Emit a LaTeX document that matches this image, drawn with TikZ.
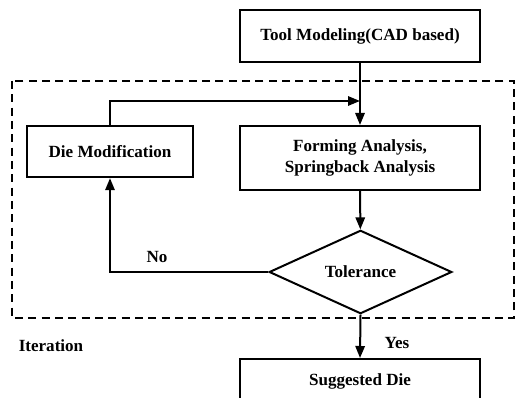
\documentclass[tikz,border=0pt]{standalone}
\usepackage{fontspec}
\setmainfont{Liberation Serif}
\usetikzlibrary{arrows.meta,shapes.geometric}

\tikzset{
    stepbox/.style={draw, line width=1.5pt, inner sep=0pt, align=center, font=\fontsize{12.8}{16}\selectfont\bfseries},
    flow/.style={line width=1.5pt, -{Triangle[length=9pt,width=7pt]}},
    tag/.style={font=\fontsize{12.8}{15}\selectfont\bfseries}
}

\begin{document}
\begin{tikzpicture}[x=0.75pt,y=-0.75pt]

    % Page size
    \useasboundingbox (0,0) rectangle (516,398);

    % Iteration frame
    \draw[dashed, line width=1.2pt, dash pattern=on 6pt off 4pt] (12,81) rectangle (514,318);
    \node[tag] (iter) at (51,346) {Iteration};

    % Boxes
    \node[stepbox, minimum width=180pt, minimum height=39pt] (tool) at (360,36) {Tool Modeling(CAD based)};
    \node[stepbox, minimum width=180pt, minimum height=48pt] (form) at (360,158) {Forming Analysis,\\Springback Analysis};
    \node[stepbox, minimum width=125pt, minimum height=38.5pt] (diemod) at (110,151.5) {Die Modification};
    \node[stepbox, shape=diamond, minimum width=137pt, minimum height=58.5pt] (tol) at (360.5,272) {Tolerance};
    \node[stepbox, minimum width=180pt, minimum height=33pt] (sugg) at (360,381) {Suggested Die};

    % Connectors
    \coordinate (join) at (360,101);
    \draw[flow] (tool) -- (form);
    \draw[flow] (diemod.north) |- (join);
    \draw[flow] (form) -- (tol);
    \draw[flow] (tol.west) -| (diemod.south);
    \draw[flow] (tol.south) -- (sugg.north);

    % Labels
    \node[tag] (no) at (157,257) {No};
    \node[tag] (yes) at (397,343) {Yes};

\end{tikzpicture}
\end{document}
